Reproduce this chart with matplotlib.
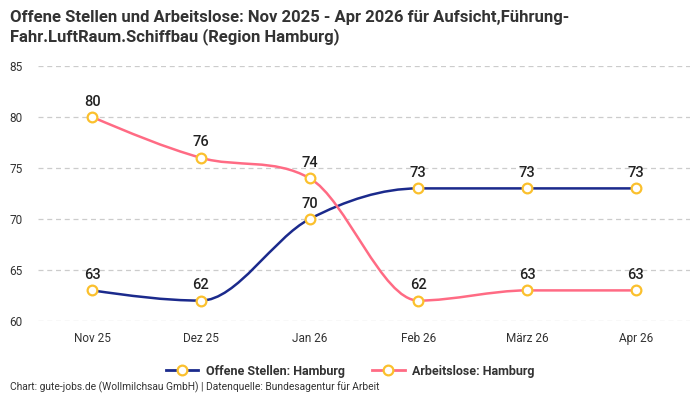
import numpy as np
import matplotlib.pyplot as plt
from matplotlib.path import Path
from matplotlib.patches import PathPatch
from matplotlib.lines import Line2D

months = ["Nov 25", "Dez 25", "Jan 26", "Feb 26", "März 26", "Apr 26"]
offene_stellen = [63, 62, 70, 73, 73, 73]
arbeitslose = [80, 76, 74, 62, 63, 63]

BLUE = "#1b2a8c"
PINK = "#ff6b84"
YELLOW = "#fbc02d"

plt.rcParams['font.family'] = ['Roboto', 'DejaVu Sans']


def monotone_path(x, y):
    # monotone cubic (Fritsch-Carlson) as bezier segments, only for drawing
    x = np.asarray(x, float)
    y = np.asarray(y, float)
    h = np.diff(x)
    d = np.diff(y) / h
    m = np.zeros(len(x))
    m[0], m[-1] = d[0], d[-1]
    for i in range(1, len(x) - 1):
        if d[i - 1] * d[i] <= 0:
            m[i] = 0
        else:
            m[i] = (d[i - 1] * h[i] + d[i] * h[i - 1]) / (h[i - 1] + h[i])
            m[i] = np.sign(m[i]) * min(abs(m[i]), 3 * min(abs(d[i - 1]), abs(d[i])))
    if len(x) > 2:
        m[0] = (3 * d[0] - m[1]) / 2
        m[-1] = (3 * d[-1] - m[-2]) / 2
    verts = [(x[0], y[0])]
    codes = [Path.MOVETO]
    for i in range(len(x) - 1):
        dx = h[i] / 3
        verts += [(x[i] + dx, y[i] + m[i] * dx), (x[i + 1] - dx, y[i + 1] - m[i + 1] * dx), (x[i + 1], y[i + 1])]
        codes += [Path.CURVE4] * 3
    return Path(verts, codes)


fig = plt.figure(figsize=(7, 4), dpi=100)
ax = fig.add_axes([0.054, 0.1975, 0.932, 0.6375])

xs = np.arange(len(months))
for vals, col in [(offene_stellen, BLUE), (arbeitslose, PINK)]:
    ax.add_patch(PathPatch(monotone_path(xs, vals), facecolor="none", edgecolor=col, lw=1.8, zorder=3))
    ax.plot(xs, vals, ls="none", marker="o", ms=7, mfc="white", mec=YELLOW, mew=1.6, zorder=4)
    for xi, v in zip(xs, vals):
        ax.annotate(str(v), (xi, v), xytext=(0, 6), textcoords="offset points",
                    ha="center", va="bottom", fontsize=10.5, fontweight="medium",
                    color="#222222", zorder=5)

ax.set_xlim(-0.5, len(months) - 0.5)
ax.set_ylim(60, 85)
ax.set_yticks([60, 65, 70, 75, 80, 85])
ax.set_xticks(xs)
ax.set_xticklabels(months)
ax.tick_params(axis="both", length=0, labelsize=8.5, labelcolor="#333333")
ax.tick_params(axis="y", pad=11)
ax.tick_params(axis="x", pad=8)
ax.grid(axis="y", color="#cccccc", ls=(0, (4, 3)), lw=0.9)
for s in ax.spines.values():
    s.set_visible(False)

fig.text(0.014, 0.975, "Offene Stellen und Arbeitslose: Nov 2025 - Apr 2026 für Aufsicht,Führung-\n"
         "Fahr.LuftRaum.Schiffbau (Region Hamburg)", ha="left", va="top",
         fontsize=12, fontweight="bold", color="#333333", linespacing=1.25)

handles = [Line2D([], [], color=BLUE, lw=2, marker="o", ms=7, mfc="white", mec=YELLOW, mew=1.6),
           Line2D([], [], color=PINK, lw=2, marker="o", ms=7, mfc="white", mec=YELLOW, mew=1.6)]
leg = fig.legend(handles, ["Offene Stellen: Hamburg", "Arbeitslose: Hamburg"], loc="center",
                 bbox_to_anchor=(0.5, 0.072), ncol=2, frameon=False, fontsize=9,
                 handlelength=2.6, columnspacing=2.2, handletextpad=0.6)
for t in leg.get_texts():
    t.set_fontweight("bold")
    t.set_color("#333333")

fig.text(0.014, 0.018, "Chart: gute-jobs.de (Wollmilchsau GmbH) | Datenquelle: Bundesagentur für Arbeit",
         ha="left", va="bottom", fontsize=7.4, color="#333333")

fig.savefig("out.png", dpi=100)
